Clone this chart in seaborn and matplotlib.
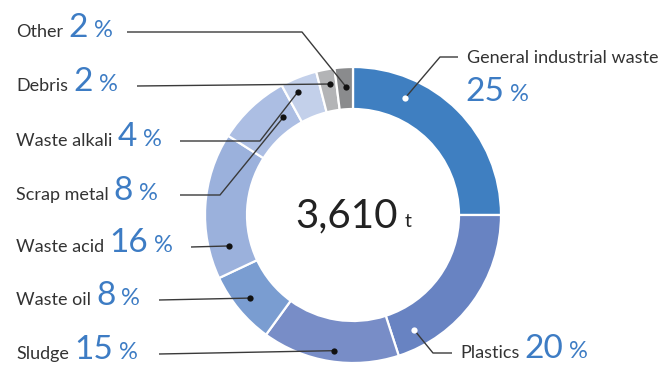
import numpy as np
import matplotlib
import seaborn as sns
from matplotlib import pyplot as plt

# data
categories = ["General industrial waste", "Plastics", "Sludge", "Waste oil", "Waste acid",
              "Scrap metal", "Waste alkali", "Debris", "Other"]
shares = [25, 20, 15, 8, 16, 8, 4, 2, 2]
total_label = "3,610"
total_unit = "t"

slice_colors = ["#3F7FC1", "#6883C2", "#788DC7", "#7A9DD1", "#9BB1DC",
                "#ACBEE3", "#C3D0EA", "#B3B4B6", "#8A8B8D"]

W, H = 664, 365
CX, CY = 353, H - 215
R_OUT, RING = 148, 42

# layout for the leader dots: clockwise angle from top (deg) and radius (px)
dot_angle = [24, 152, 188, 231, 256, 324.5, 336, 350, 357]
dot_radius = [128, 130, 137, 132, 128, 120, 135, 133, 128]

BLUE = "#3D7CC4"
GREY_TXT = "#333333"
LINE = "#3a3a3a"

sns.set_theme(style="white")
plt.rcParams["font.family"] = ["Lato", "DejaVu Sans"]

fig = plt.figure(figsize=(W / 100, H / 100), dpi=100)
ax = fig.add_axes([0, 0, 1, 1])

ax.pie(shares, colors=slice_colors, startangle=90, counterclock=False,
       radius=R_OUT, center=(CX, CY),
       wedgeprops=dict(width=RING, edgecolor="white", linewidth=1.6))
ax.set_xlim(0, W)
ax.set_ylim(0, H)
ax.set_aspect("equal")
ax.axis("off")

dots = []
for a, r in zip(dot_angle, dot_radius):
    t = np.deg2rad(a)
    dots.append((CX + r * np.sin(t), CY + r * np.cos(t)))

renderer = fig.canvas.get_renderer()


def pct_text(x, y, pct):
    t2 = ax.text(x, y, f"{pct}", fontsize=24, color=BLUE, va="baseline", ha="left")
    x2 = t2.get_window_extent(renderer).x1 + 6
    ax.text(x2, y, "%", fontsize=17, color=BLUE, va="baseline", ha="left")


def label(x, y_top, name, pct, gap=5):
    y = H - y_top
    t1 = ax.text(x, y, name, fontsize=13, color=GREY_TXT, va="baseline", ha="left")
    pct_text(t1.get_window_extent(renderer).x1 + gap, y, pct)


def leader(points, dot, dot_color):
    xs = [p[0] for p in points] + [dot[0]]
    ys = [H - p[1] for p in points] + [dot[1]]
    ax.plot(xs, ys, color=LINE, lw=1, solid_capstyle="butt")
    ax.plot(dot[0], dot[1], "o", ms=4.5, color=dot_color, mec="none", zorder=5)


# left side labels, top to bottom: Other .. Sludge
left_order = [8, 7, 6, 5, 4, 3, 2]
left_base = [37, 91, 146, 200, 252, 305, 359]
left_line = [(127, 302), (137, None), (180, 260), (180, 220), (191, None), (159, None), (159, None)]

for i, base, (x0, elbow) in zip(left_order, left_base, left_line):
    label(16, base, categories[i], shares[i])
    ly = base - 5
    pts = [(x0, ly)]
    if elbow is not None:
        pts.append((elbow, ly))
    leader(pts, dots[i], "#111111")

# General industrial waste
ax.text(467, H - 63, categories[0], fontsize=13, color=GREY_TXT, va="baseline")
pct_text(465, H - 101, shares[0])
leader([(458, 57), (440, 57)], dots[0], "white")

# Plastics
label(460, 358, categories[1], shares[1])
leader([(452, 353), (433, 353)], dots[1], "white")

# centre total
tc = ax.text(295, H - 227, total_label, fontsize=29, color="#222222", va="baseline")
ax.text(tc.get_window_extent(renderer).x1 + 7, H - 227, total_unit, fontsize=14,
        color="#222222", va="baseline")

fig.savefig("out.png", dpi=100)
plt.close()
